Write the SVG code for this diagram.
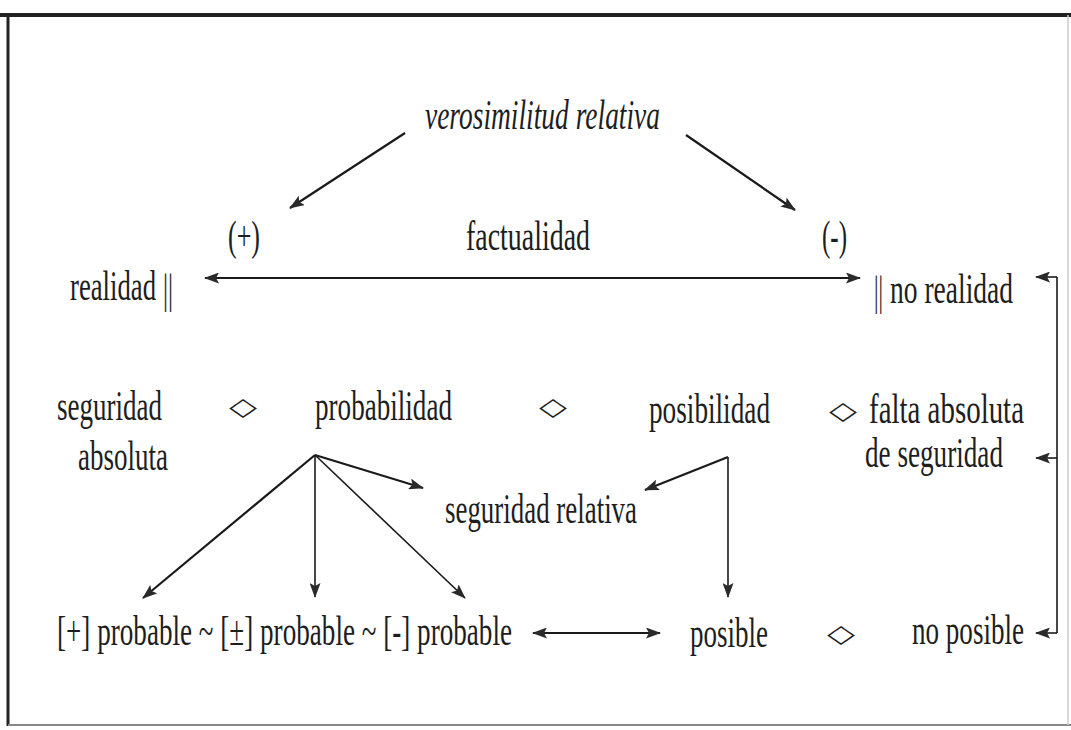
<svg xmlns="http://www.w3.org/2000/svg" width="1071" height="730" viewBox="0 0 1071 730">
<style>
  .t { font-family: "Liberation Serif", "Times New Roman", serif; font-size: 42px; fill: #1e1e1e; }
  .it { font-style: italic; }
  .dm { font-family: "DejaVu Sans", sans-serif; font-size: 25px; fill: #1e1e1e; }
  .c { stroke: #1a1a1a; stroke-width: 2.2; fill: none; }
  .cb { stroke: #1a1a1a; stroke-width: 1.6; fill: none; }
</style>
<defs>
  <marker id="ah" viewBox="0 0 15 11" refX="14" refY="5.5" markerWidth="15" markerHeight="11" markerUnits="userSpaceOnUse" orient="auto-start-reverse">
    <path d="M0,0 L15,5.5 L0,11 L3,5.5 z" fill="#2a2a2a"/>
  </marker>
</defs>
<rect x="0" y="0" width="1071" height="730" fill="#ffffff"/>
<g id="frame">
  <line x1="0" y1="15" x2="1071" y2="15" stroke="#222" stroke-width="4"/>
  <line x1="8" y1="14" x2="8" y2="726" stroke="#222" stroke-width="3"/>
  <line x1="8" y1="725" x2="1071" y2="725" stroke="#888" stroke-width="2"/>
  <line x1="1068" y1="15" x2="1068" y2="725" stroke="#ccc" stroke-width="1.5"/>
</g>
<g id="connectors">
  <line class="c" x1="405" y1="133" x2="290" y2="208" marker-end="url(#ah)"/>
  <line class="c" x1="686" y1="135" x2="795" y2="210" marker-end="url(#ah)"/>
  <line class="c" x1="205" y1="278" x2="860" y2="278" marker-start="url(#ah)" marker-end="url(#ah)"/>
  <line class="c" x1="315" y1="455" x2="143" y2="598" marker-end="url(#ah)"/>
  <line class="cb" x1="315" y1="455" x2="315" y2="597" marker-end="url(#ah)"/>
  <line class="cb" x1="315" y1="455" x2="465" y2="598" marker-end="url(#ah)"/>
  <line class="c" x1="315" y1="455" x2="423" y2="488" marker-end="url(#ah)"/>
  <line class="c" x1="728" y1="457" x2="645" y2="490" marker-end="url(#ah)"/>
  <line class="cb" x1="728" y1="457" x2="728" y2="597" marker-end="url(#ah)"/>
  <line class="c" x1="533" y1="633" x2="660" y2="633" marker-start="url(#ah)" marker-end="url(#ah)"/>
  <path class="cb" d="M1057,277 V633"/>
  <line class="cb" x1="1057" y1="277" x2="1036" y2="277" marker-end="url(#ah)"/>
  <line class="cb" x1="1057" y1="458" x2="1036" y2="458" marker-end="url(#ah)"/>
  <line class="cb" x1="1057" y1="633" x2="1036" y2="633" marker-end="url(#ah)"/>
</g>
<g id="verosimilitud"><text class="t it" x="425" y="129" textLength="235" lengthAdjust="spacingAndGlyphs">verosimilitud relativa</text></g>
<g id="plus"><text class="t" x="228" y="250" textLength="32" lengthAdjust="spacingAndGlyphs">(+)</text></g>
<g id="factualidad"><text class="t" x="466" y="250" textLength="124" lengthAdjust="spacingAndGlyphs">factualidad</text></g>
<g id="minus"><text class="t" x="822" y="250" textLength="25" lengthAdjust="spacingAndGlyphs">(-)</text></g>
<g id="realidad">
  <text class="t" x="70" y="300" textLength="86" lengthAdjust="spacingAndGlyphs">realidad</text>
  <text class="t" x="163" y="303" textLength="10" lengthAdjust="spacingAndGlyphs">||</text>
</g>
<g id="norealidad">
  <text class="t" x="874" y="305" textLength="9" lengthAdjust="spacingAndGlyphs">||</text>
  <text class="t" x="890" y="303" textLength="123" lengthAdjust="spacingAndGlyphs">no realidad</text>
</g>
<g id="seguridad-absoluta">
  <text class="t" x="57" y="420" textLength="105" lengthAdjust="spacingAndGlyphs">seguridad</text>
  <text class="t" x="78" y="470" textLength="90" lengthAdjust="spacingAndGlyphs">absoluta</text>
</g>
<g id="probabilidad"><text class="t" x="315" y="420" textLength="137" lengthAdjust="spacingAndGlyphs">probabilidad</text></g>
<g id="posibilidad"><text class="t" x="649" y="423" textLength="121" lengthAdjust="spacingAndGlyphs">posibilidad</text></g>
<g id="falta">
  <text class="t" x="869" y="423" textLength="155" lengthAdjust="spacingAndGlyphs">falta absoluta</text>
  <text class="t" x="865" y="467" textLength="138" lengthAdjust="spacingAndGlyphs">de seguridad</text>
</g>
<g id="seguridad-relativa"><text class="t" x="445" y="523" textLength="192" lengthAdjust="spacingAndGlyphs">seguridad relativa</text></g>
<g id="probables"><text class="t" x="57" y="645" textLength="455" lengthAdjust="spacingAndGlyphs">[+] probable ~ [±] probable ~ [-] probable</text></g>
<g id="posible"><text class="t" x="690" y="647" textLength="78" lengthAdjust="spacingAndGlyphs">posible</text></g>
<g id="noposible"><text class="t" x="912" y="644" textLength="112" lengthAdjust="spacingAndGlyphs">no posible</text></g>
<g id="diamonds">
  <text class="dm" x="229" y="415" textLength="28" lengthAdjust="spacingAndGlyphs">◇</text>
  <text class="dm" x="539" y="415" textLength="28" lengthAdjust="spacingAndGlyphs">◇</text>
  <text class="dm" x="829" y="419" textLength="28" lengthAdjust="spacingAndGlyphs">◇</text>
  <text class="dm" x="827" y="642" textLength="28" lengthAdjust="spacingAndGlyphs">◇</text>
</g>
</svg>
